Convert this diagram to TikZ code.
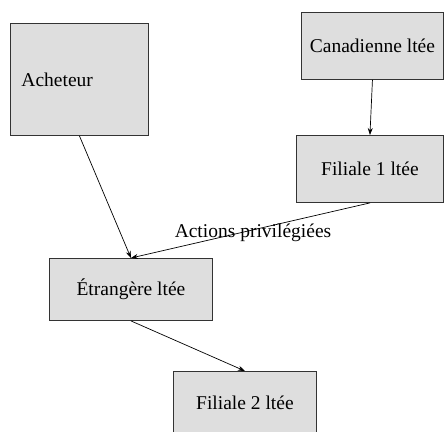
\documentclass[tikz,border=0pt]{standalone}
\usepackage{fontspec}
\setmainfont{Liberation Serif}
\usetikzlibrary{arrows.meta}
\begin{document}
\begin{tikzpicture}[x=1pt,y=-1pt,
  every node/.style={font=\fontsize{19.5}{22}\selectfont},
  box/.style={draw=black!80, line width=0.9pt, fill=black!13, inner sep=0pt, anchor=north west},
  link/.style={draw=black, line width=0.7pt, -{Stealth[length=7pt,width=5pt]}}]
\useasboundingbox (0,0) rectangle (444,431);
% entities
\node[box, minimum width=138pt, minimum height=112pt, text width=116pt, inner xsep=11pt, align=left] (ach) at (10,23) {Acheteur};
\node[box, minimum width=142pt, minimum height=67pt] (can) at (301,12) {Canadienne ltée};
\node[box, minimum width=147pt, minimum height=67pt] (f1) at (296,135) {Filiale 1 ltée};
\node[box, minimum width=163pt, minimum height=62pt] (etr) at (49,258) {Étrangère ltée};
\node[box, minimum width=143pt, minimum height=62pt] (f2) at (173,371) {Filiale 2 ltée};
% ownership links
\draw[link] (can.south) -- (f1.north);
\draw[link] (ach.south) -- (etr.north);
\draw[link] (f1.south) -- (etr.north);
\draw[link] (etr.south) -- (f2.north);
\node (lbl) at (253,233) {Actions privilégiées};
\end{tikzpicture}
\end{document}
